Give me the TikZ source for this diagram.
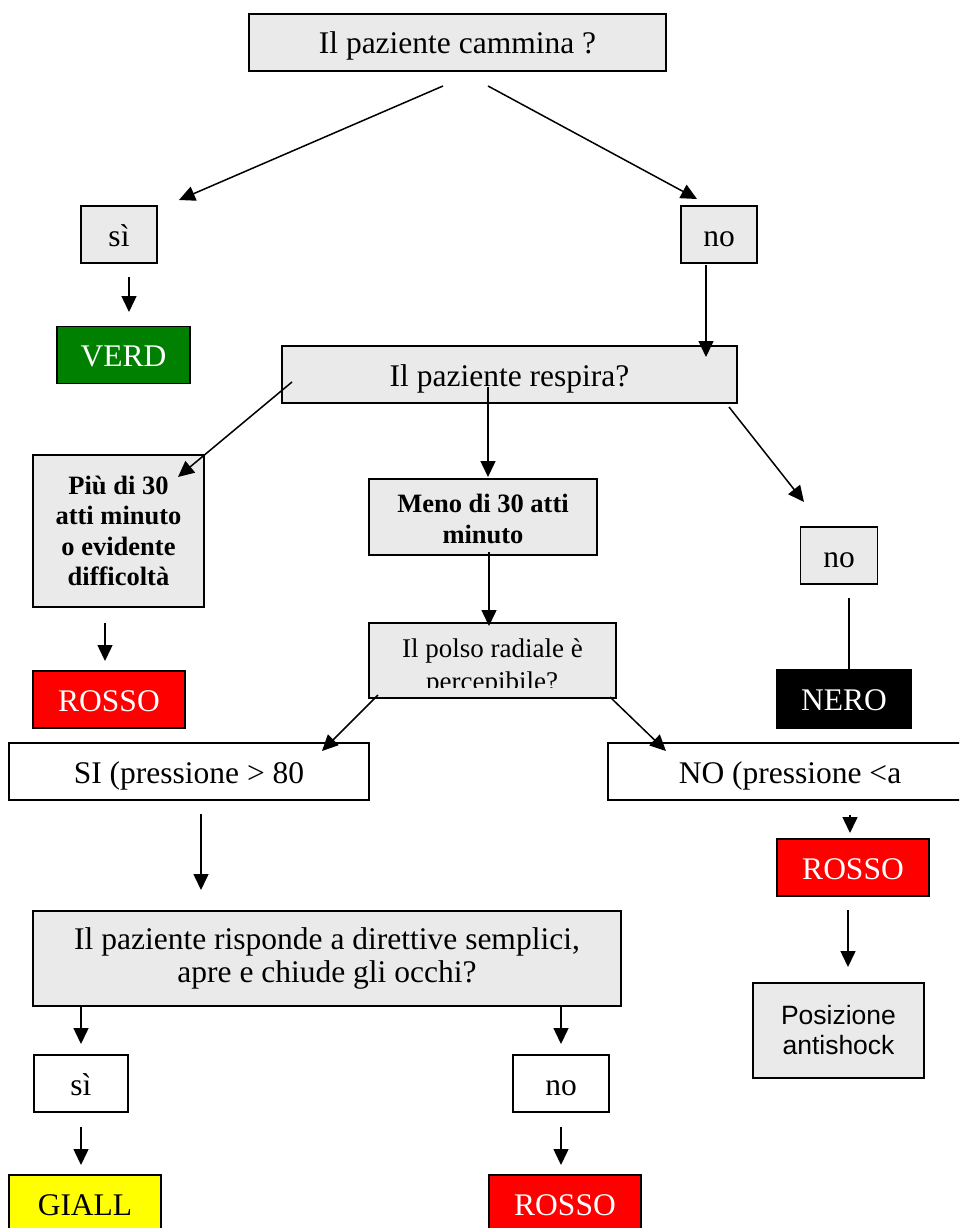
\documentclass[tikz,border=0pt]{standalone}
\usepackage{fontspec}
\setmainfont{Liberation Serif}
\newfontfamily\arialf{Liberation Sans}
\usetikzlibrary{arrows.meta}
\definecolor{boxgray}{RGB}{234,234,234}
\definecolor{verde}{RGB}{0,128,0}
\definecolor{rosso}{RGB}{255,0,0}
\definecolor{giallo}{RGB}{255,255,0}
\begin{document}
\begin{tikzpicture}[x=1pt,y=-1pt,
  box/.style={draw=black, line width=1.6pt, inner sep=0pt, outer sep=0pt, align=center,
              font=\fontsize{31.5}{34}\selectfont},
  one/.style={text height=23pt, text depth=0pt},
  gbox/.style={box, fill=boxgray},
  wbox/.style={box, fill=white},
  boldtxt/.style={font=\fontsize{26.5}{30.5}\selectfont\bfseries},
  sz/.style n args={2}{minimum width=#1pt, minimum height=#2pt},
  arr/.style={line width=1.5pt, -{Triangle[length=16pt,width=15pt]}},
  ln/.style={line width=1.5pt}
]
\clip (0,0) rectangle (959,1228);
\fill[white] (0,0) rectangle (959,1228);

% nodes
\node[gbox, one, sz={417}{57}] (top) at (457.5,42.5) {Il paziente cammina ?};
\node[gbox, one, sz={76}{57}] (si1) at (119,234.5) {sì};
\node[gbox, one, sz={76}{57}] (no1) at (719,234.5) {no};
\node[box, one, fill=verde, text=white, sz={133}{57}] (verd) at (123.5,355) {VERD};
\node[gbox, one, sz={455}{57}] (resp) at (509.5,374.5) {Il paziente respira?};
\node[gbox, boldtxt, sz={171}{152}] (piu) at (118.5,531) {Più di 30\\atti minuto\\o evidente\\difficoltà};
\node[gbox, boldtxt, sz={228}{76}] (meno) at (483,517) {\rule{0pt}{22pt}Meno di 30 atti\\minuto};
\node[gbox, one, sz={77}{57}] (no2) at (839,555.5) {no};
\node[box, one, fill=rosso, text=white, sz={152}{57}] (rosso1) at (109,699.5) {ROSSO};
\node[gbox, sz={247}{75}] (polso) at (492.5,660.5) {};
\node[box, one, fill=black, text=white, sz={134}{58}] (nero) at (844,699) {NERO};
\node[wbox, one, sz={360}{57}] (si2) at (189,771.5) {SI (pressione > 80};
\node[wbox, one, sz={364}{57}] (no3) at (790,771.5) {NO (pressione <a};
\node[box, one, fill=rosso, text=white, sz={152}{57}] (rosso2) at (853,867.5) {ROSSO};
\node[gbox, font=\arialf\fontsize{26.5}{30}\selectfont, sz={171}{95}] (posiz) at (838.5,1030.5) {Posizione\\antishock};
\node[gbox, font=\fontsize{31.5}{33}\selectfont, sz={588}{95}] (quest) at (327,958.5) {Il paziente risponde a direttive semplici,\\apre e chiude gli occhi?};
\node[wbox, one, sz={94}{57}] (si3) at (81,1083.5) {sì};
\node[wbox, one, sz={96}{57}] (no4) at (561,1083.5) {no};
\node[box, one, fill=giallo, sz={152}{57}] (giall) at (85,1203.5) {GIALL};
\node[box, one, fill=rosso, text=white, sz={152}{57}] (rosso3) at (565,1203.5) {ROSSO};

% clipped text of the pulse box
\node[anchor=base, font=\fontsize{27}{30}\selectfont, inner sep=0pt] (polsoA) at (492.5,657) {Il polso radiale è};
\begin{scope}
  \clip (370,624) rectangle (615,687);
  \node[anchor=base, font=\fontsize{27}{30}\selectfont, inner sep=0pt] (polsoB) at (492,690) {percepibile?};
\end{scope}

% connector end points
\coordinate (c1s) at (443,86);   \coordinate (c1e) at (179,200);
\coordinate (c2s) at (488,86);   \coordinate (c2e) at (697,199);
\coordinate (c3s) at (129,277);  \coordinate (c3e) at (129,312);
\coordinate (c4s) at (706,265);  \coordinate (c4e) at (706,357);
\coordinate (c5s) at (292,382);  \coordinate (c5e) at (178,477);
\coordinate (c6s) at (488,387);  \coordinate (c6e) at (488,477);
\coordinate (c7s) at (729,407);  \coordinate (c7e) at (804,502);
\coordinate (c8s) at (489,552);  \coordinate (c8e) at (489,626);
\coordinate (c9s) at (105,623);  \coordinate (c9e) at (105,661);
\coordinate (c10s) at (849,598); \coordinate (c10e) at (849,670);
\coordinate (c11s) at (378,695); \coordinate (c11e) at (322,751);
\coordinate (c12s) at (610,697); \coordinate (c12e) at (666,751);
\coordinate (c13s) at (850,815); \coordinate (c13e) at (850,833);
\coordinate (c14s) at (848,910); \coordinate (c14e) at (848,967);
\coordinate (c15s) at (201,814); \coordinate (c15e) at (201,890);
\coordinate (c16s) at (81,1006); \coordinate (c16e) at (81,1044);
\coordinate (c17s) at (561,1006); \coordinate (c17e) at (561,1044);
\coordinate (c18s) at (81,1127); \coordinate (c18e) at (81,1165);
\coordinate (c19s) at (561,1127); \coordinate (c19e) at (561,1165);

% connectors
\draw[arr] (c1s) -- (c1e);
\draw[arr] (c2s) -- (c2e);
\draw[arr] (c3s) -- (c3e);
\draw[arr] (c4s) -- (c4e);
\draw[arr] (c5s) -- (c5e);
\draw[arr] (c6s) -- (c6e);
\draw[arr] (c7s) -- (c7e);
\draw[arr] (c8s) -- (c8e);
\draw[arr] (c9s) -- (c9e);
\draw[ln]  (c10s) -- (c10e);
\draw[arr] (c11s) -- (c11e);
\draw[arr] (c12s) -- (c12e);
\draw[arr] (c13s) -- (c13e);
\draw[arr] (c14s) -- (c14e);
\draw[arr] (c15s) -- (c15e);
\draw[arr] (c16s) -- (c16e);
\draw[arr] (c17s) -- (c17e);
\draw[arr] (c18s) -- (c18e);
\draw[arr] (c19s) -- (c19e);
\end{tikzpicture}
\end{document}
